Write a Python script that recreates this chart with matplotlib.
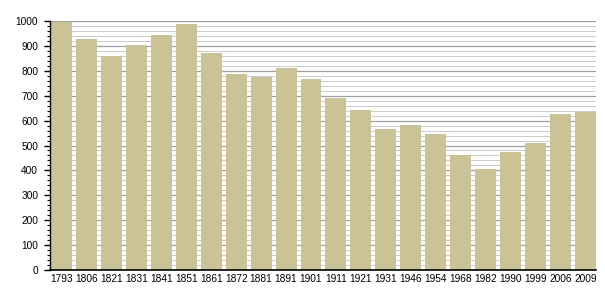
import numpy as np
import matplotlib.pyplot as plt
from matplotlib.ticker import MultipleLocator

plt.rcParams['font.family'] = ['Liberation Sans', 'DejaVu Sans']

years = ['1793', '1806', '1821', '1831', '1841', '1851', '1861', '1872', '1881', '1891', '1901',
         '1911', '1921', '1931', '1946', '1954', '1968', '1982', '1990', '1999', '2006', '2009']
population = [996, 928, 859, 904, 944, 988, 873, 787, 775, 811, 767,
              691, 641, 566, 581, 546, 461, 406, 474, 510, 627, 635]

fig = plt.figure(figsize=(6.05, 3.0), dpi=100)
ax = fig.add_axes([0.0826, 0.1, 0.9025, 0.83])

x = np.arange(len(years))
w = 0.84
ax.bar(x, population, width=w, align='edge', color='#cbc297', zorder=3)

ax.set_xlim(-0.04, len(years) - 1 + w)
ax.set_ylim(0, 1000)
ax.set_xticks(x + w / 2)
ax.set_xticklabels(years, fontsize=7.3)
ax.tick_params(axis='x', length=0, pad=3)

ax.yaxis.set_major_locator(MultipleLocator(100))
ax.yaxis.set_minor_locator(MultipleLocator(20))
ax.tick_params(axis='y', which='major', length=4.5, width=1, labelsize=7.3, pad=4)
ax.tick_params(axis='y', which='minor', length=2.5, width=0.8)

ax.grid(axis='y', which='major', color='#a0a0a0', lw=0.9, zorder=1)
ax.grid(axis='y', which='minor', color='#cccccc', lw=0.7, zorder=0)

for s in ['top', 'right']:
    ax.spines[s].set_visible(False)
ax.spines['left'].set_linewidth(1.0)
ax.spines['bottom'].set_linewidth(1.2)
ax.spines['left'].set_zorder(4)
ax.spines['bottom'].set_zorder(4)

plt.savefig('out.png', dpi=100)
